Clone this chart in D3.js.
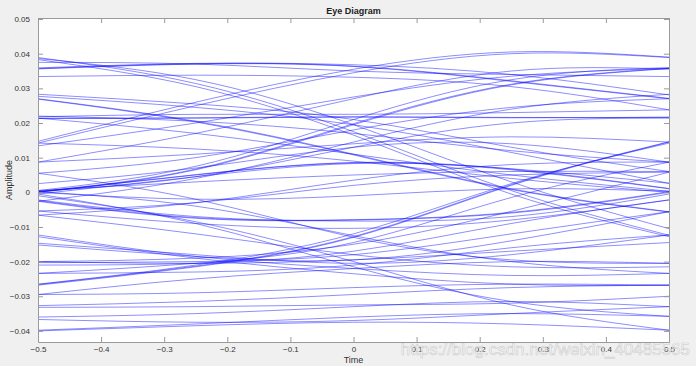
<!DOCTYPE html>
<html>
<head>
<meta charset="utf-8">
<script src="https://cdn.jsdelivr.net/npm/d3@7"></script>
<style>
  body { margin: 0; background: #f0f0f0; }
  svg { display: block; font-family: "Liberation Sans", Arial, sans-serif; }
</style>
</head>
<body>
<div id="chart"></div>
<script>
// sample instants of each trace (one symbol period)
const times = [-0.5, -0.25, 0, 0.25, 0.5];

// traces, amplitude in units of 1e-3
const traces = [
  [38.9, 31.4, 17.5, 0.5, -12.4],
  [38.3, 30.5, 16.5, -0.5, -12.8],
  [38.6, 32.5, 19.5, 3, -10.5],
  [35.6, 37, 36.3, 32, 27],
  [35.7, 37.1, 36.4, 32.2, 27.1],
  [35.9, 37.2, 36.8, 34, 28.1],
  [33.4, 33.8, 33.2, 30.5, 23.8],
  [37.5, 37, 35, 34, 33.4],
  [28.3, 25.5, 21, 13, 6],
  [27.7, 24.5, 19.5, 11.5, 2.6],
  [27, 20.5, 11, 1, -5.6],
  [26.9, 20.3, 10.8, 0.8, -5.7],
  [21.4, 21.5, 21.8, 21.6, 21.6],
  [21.3, 21.4, 21.7, 21.5, 21.7],
  [21.8, 22.5, 22.5, 23, 23.8],
  [22, 20.5, 17, 12, 8.7],
  [14.7, 26, 35.5, 40.5, 39],
  [14.2, 25, 34.5, 40, 38.9],
  [13.4, 20, 27.5, 33.5, 35.7],
  [8.7, 17, 27, 35, 35.6],
  [0, 6.5, 19.5, 31, 35.7],
  [0.2, 6.7, 19.8, 31.2, 35.8],
  [0.5, 7.5, 21, 32.5, 36],
  [8.7, 11, 14, 16, 14.5],
  [-2.6, 4, 14.5, 24, 28.3],
  [5.5, 10, 18, 24.5, 27],
  [0.3, 4.5, 13, 20, 21.4],
  [0, 5, 8.5, 6.5, 1],
  [0.1, 5.1, 8.6, 6.7, 1.1],
  [-0.5, 4.5, 8.3, 6.8, 2.6],
  [0.5, 3, 5, 6, 6],
  [2.5, 7, 13, 14, 8.7],
  [-2.6, -7.5, -8, -6, 0],
  [-2.4, -7.3, -7.9, -5.8, 0.2],
  [-2.2, -7, -8.3, -7, -0.5],
  [-5.4, -9, -10.4, -8, -2.2],
  [0, -2, -1, 1, 0.3],
  [-1, -8.5, -20, -32.5, -39.8],
  [-0.5, -9, -21.5, -31.5, -35.8],
  [5.5, -2, -13, -19.5, -20.5],
  [0.2, -4, -12.5, -20, -23.4],
  [-6.6, -12, -18, -21.5, -21.5],
  [-12.3, -18.5, -22, -24, -23.4],
  [-12.8, -19, -23.5, -26.5, -26.8],
  [-14.7, -18, -20.5, -18, -12.3],
  [-15.2, -18.5, -19.5, -14, -5.6],
  [-26.8, -21.5, -13, 2, 14.5],
  [-26.6, -21.3, -12.8, 2.2, 14.6],
  [-26.5, -21, -12, 2.5, 14.2],
  [-23.4, -20.5, -14.5, -1.5, 8.7],
  [-20, -19, -15, -5.5, 5.8],
  [-21, -20.5, -17, -9, -2.2],
  [-20.3, -20, -18, -12, -5.6],
  [-23.4, -23, -21, -16, -12.3],
  [-20, -20.5, -19.5, -17, -14.5],
  [-29.5, -29, -27.5, -26.5, -26.8],
  [-32.7, -31.5, -29.5, -27.5, -26.8],
  [-33.2, -33, -32.5, -32, -30],
  [-36, -35, -33, -31.5, -33],
  [-36.7, -37.5, -37, -35, -33],
  [-39.8, -38, -36, -35, -35.8],
  [-40, -38.5, -37.5, -38, -39.8],
  [-29.5, -25, -22, -20, -20.5],
  [-5.4, -3, 2, 5, 5.8],
  [-6.6, -3, 3.5, 8, 8.7],
  [21.4, 17, 11, 5, 0.3],
  [14.2, 12.5, 9, 4, 0]
];

const xTicks = [-0.5, -0.4, -0.3, -0.2, -0.1, 0, 0.1, 0.2, 0.3, 0.4, 0.5];
const yTicks = [-0.04, -0.03, -0.02, -0.01, 0, 0.01, 0.02, 0.03, 0.04, 0.05];

const width = 696, height = 366;
const margin = {top: 18, right: 27, bottom: 24, left: 38};

const svg = d3.select("#chart")
  .append("svg")
    .attr("width", width)
    .attr("height", height);

const x = d3.scaleLinear()
  .domain([-0.5, 0.5])
  .range([margin.left, width - margin.right]);

const y = d3.scaleLinear()
  .domain([-0.0432, 0.0503])
  .range([height - margin.bottom, margin.top]);

// axes background
svg.append("rect")
  .attr("x", x(-0.5))
  .attr("y", margin.top)
  .attr("width", x(0.5) - x(-0.5))
  .attr("height", height - margin.bottom - margin.top)
  .attr("fill", "#fff");

// traces
const line = d3.line()
  .x((d, i) => x(times[i]))
  .y(d => y(d / 1000))
  .curve(d3.curveNatural);

svg.append("g")
  .selectAll("path")
  .data(traces)
  .join("path")
    .attr("d", line)
    .attr("fill", "none")
    .attr("stroke", "#0000ff")
    .attr("stroke-opacity", 0.6)
    .attr("stroke-width", 0.75);

// axes, ticks pointing inward, box on
const axisColor = "#9a9a9a";
const tickLen = 5;
function styleAxis(g) {
  g.select(".domain").attr("stroke", axisColor);
  g.selectAll(".tick line").attr("stroke", axisColor);
  g.selectAll(".tick text").attr("fill", "#333").style("font-size", "8px");
}

svg.append("g")
  .attr("transform", `translate(0,${height - margin.bottom})`)
  .call(d3.axisBottom(x).tickValues(xTicks).tickSizeInner(-tickLen).tickSizeOuter(0)
    .tickPadding(4).tickFormat(d3.format("")))
  .call(styleAxis);

svg.append("g")
  .attr("transform", `translate(0,${margin.top})`)
  .call(d3.axisTop(x).tickValues(xTicks).tickSizeInner(-tickLen).tickSizeOuter(0).tickFormat(""))
  .call(styleAxis);

svg.append("g")
  .attr("transform", `translate(${margin.left},0)`)
  .call(d3.axisLeft(y).tickValues(yTicks).tickSizeInner(-tickLen).tickSizeOuter(0)
    .tickPadding(8).tickFormat(d3.format("")))
  .call(styleAxis);

svg.append("g")
  .attr("transform", `translate(${width - margin.right},0)`)
  .call(d3.axisRight(y).tickValues(yTicks).tickSizeInner(-tickLen).tickSizeOuter(0).tickFormat(""))
  .call(styleAxis);

// titles
svg.append("text")
  .attr("x", x(0))
  .attr("y", 14)
  .attr("text-anchor", "middle")
  .style("font-size", "9px")
  .style("font-weight", "bold")
  .attr("fill", "#222")
  .text("Eye Diagram");

svg.append("text")
  .attr("x", x(0))
  .attr("y", 363)
  .attr("text-anchor", "middle")
  .style("font-size", "9px")
  .attr("fill", "#333")
  .text("Time");

svg.append("text")
  .attr("transform", `translate(12,${(margin.top + height - margin.bottom) / 2}) rotate(-90)`)
  .attr("text-anchor", "middle")
  .style("font-size", "9px")
  .attr("fill", "#333")
  .text("Amplitude");

// watermark
svg.append("text")
  .attr("x", 690)
  .attr("y", 355)
  .attr("text-anchor", "end")
  .style("font-size", "17px")
  .attr("fill", "#fff")
  .attr("fill-opacity", 0.6)
  .attr("stroke", "#b8b8b8")
  .attr("stroke-width", 0.6)
  .attr("stroke-opacity", 0.7)
  .text("https://blog.csdn.net/weixin_40485565");
</script>
</body>
</html>
